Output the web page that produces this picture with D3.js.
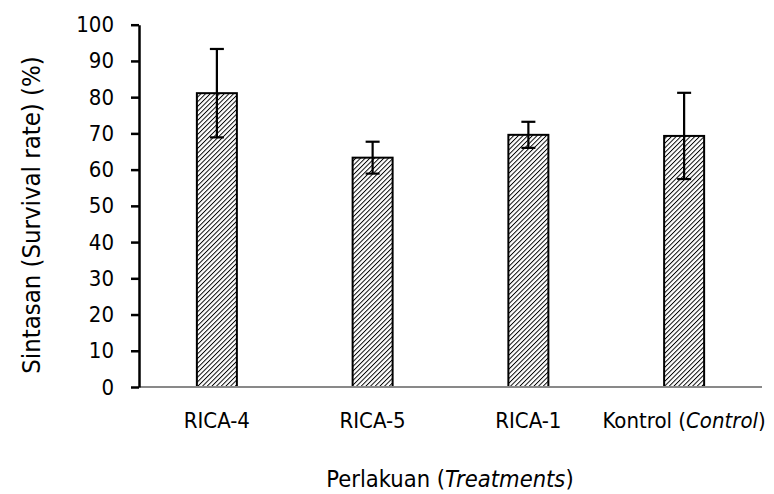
<!DOCTYPE html>
<html><head><meta charset="utf-8">
<script src="https://cdn.jsdelivr.net/npm/d3@7"></script>
<style>body{margin:0;background:#fff}svg{display:block}text{font-family:"DejaVu Sans Condensed","DejaVu Sans",sans-serif;fill:#000}</style>
</head><body><svg id="c" width="774" height="494"></svg>
<script>
const categories = ["RICA-4","RICA-5","RICA-1","Kontrol"];
const values = [81.1, 63.3, 69.6, 69.3];
const errors = [12.2, 4.4, 3.6, 11.9];
const yTicks = [0,10,20,30,40,50,60,70,80,90,100];

const svg = d3.select("#c");
const x = d3.scaleBand().domain(categories).range([139, 762]).padding(0);
const y = d3.scaleLinear().domain([0,100]).range([387, 24.7]);
const barW = 40;

const defs = svg.append("defs");
const pat = defs.append("pattern").attr("id","hatch").attr("patternUnits","userSpaceOnUse")
  .attr("width",3.3).attr("height",3.3).attr("patternTransform","rotate(45)");
pat.append("rect").attr("width",3.3).attr("height",3.3).attr("fill","#fff");
pat.append("line").attr("x1",0).attr("y1",0).attr("x2",0).attr("y2",3.3).attr("stroke","#000").attr("stroke-width",1.9);

// bars
svg.selectAll("rect.bar").data(categories).join("rect").attr("class","bar")
  .attr("x", d => x(d) + x.bandwidth()/2 - barW/2)
  .attr("width", barW)
  .attr("y", (d,i) => y(values[i]))
  .attr("height", (d,i) => y(0) - y(values[i]))
  .attr("fill","url(#hatch)").attr("stroke","#000").attr("stroke-width",2);

// error bars
const eg = svg.append("g");
categories.forEach((d,i) => {
  const cx = x(d) + x.bandwidth()/2;
  eg.append("line").attr("x1",cx).attr("x2",cx).attr("y1",y(values[i]+errors[i])).attr("y2",y(values[i]-errors[i])).attr("stroke","#000").attr("stroke-width",2.2);
  [values[i]+errors[i], values[i]-errors[i]].forEach(v => {
    eg.append("line").attr("x1",cx-7).attr("x2",cx+7).attr("y1",y(v)).attr("y2",y(v)).attr("stroke","#000").attr("stroke-width",2.2);
  });
});

// x axis line
svg.append("line").attr("x1",139).attr("x2",762).attr("y1",y(0)).attr("y2",y(0)).attr("stroke","#898989").attr("stroke-width",2);

// y axis
const yAxis = d3.axisLeft(y).tickValues(yTicks).tickSize(8).tickSizeOuter(0).tickPadding(17);
const ga = svg.append("g").attr("transform","translate(139,0)").call(yAxis);
ga.select(".domain").attr("stroke","#000").attr("stroke-width",2.5);
ga.selectAll(".tick line").attr("stroke","#000").attr("stroke-width",2.5);
ga.selectAll(".tick text").attr("font-size",22).attr("font-family",null);

// category labels
const labels = svg.append("g");
categories.forEach((d,i) => {
  const t = labels.append("text").attr("x", x(d)+x.bandwidth()/2).attr("y",428).attr("text-anchor","middle").attr("font-size",22);
  if (d === "Kontrol") {
    t.append("tspan").text("Kontrol (");
    t.append("tspan").attr("font-style","italic").text("Control");
    t.append("tspan").text(")");
  } else t.text(d);
});

// axis titles
const xt = svg.append("text").attr("x",450).attr("y",487).attr("text-anchor","middle").attr("font-size",23.5);
xt.append("tspan").text("Perlakuan (");
xt.append("tspan").attr("font-style","italic").text("Treatments");
xt.append("tspan").text(")");

svg.append("text").attr("transform","translate(40,215) rotate(-90)").attr("text-anchor","middle").attr("font-size",25.5)
  .text("Sintasan (Survival rate) (%)");
</script></body></html>
